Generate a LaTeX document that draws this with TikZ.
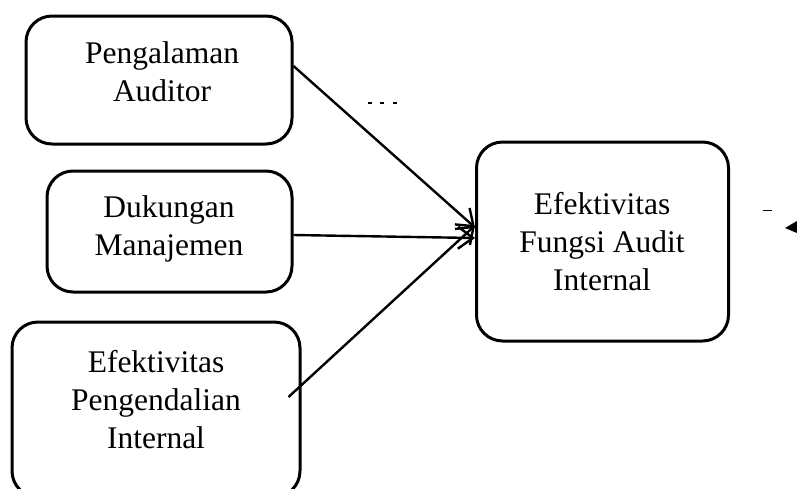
\documentclass[tikz,border=0pt]{standalone}
\usepackage{fontspec}
\setmainfont{Liberation Serif}
\usetikzlibrary{arrows.meta}
\tikzset{
  box/.style={draw, line width=3pt, rounded corners=26pt, inner sep=0pt},
  lbl/.style={align=center, inner sep=0pt, anchor=base, font=\fontsize{31.5}{38}\selectfont},
  arr/.style={line width=2.4pt, -{Straight Barb[length=15pt,width=22pt,line width=2.4pt]}},
  speck/.style={fill=black, draw=none}
}
\begin{document}
\begin{tikzpicture}[x=1pt,y=-1pt]
\useasboundingbox (0,0) rectangle (797,488);
\node[box, minimum width=266pt, minimum height=128pt] (b1) at (159,80) {};
\node[box, minimum width=245pt, minimum height=121pt] (b2) at (169.5,231.5) {};
\node[box, minimum width=288pt, minimum height=175pt] (b3) at (156,409.5) {};
\node[box, minimum width=252pt, minimum height=199pt] (b4) at (602.5,241.5) {};
\node[lbl] (t1) at (162,101) {Pengalaman\\Auditor};
\node[lbl] (t2) at (169,255) {Dukungan\\Manajemen};
\node[lbl] (t3) at (156,448) {Efektivitas\\Pengendalian\\Internal};
\node[lbl] (t4) at (602,290) {Efektivitas\\Fungsi Audit\\Internal};
\draw[arr] ([yshift=14pt]b1.east) -- ([yshift=14pt]b4.west);
\draw[arr] ([yshift=-3.5pt]b2.east) -- ([yshift=3.5pt]b4.west);
\coordinate (s3) at ([xshift=-13pt,yshift=12.5pt]b3.east);
\draw[arr] (s3) -- ([yshift=16pt]b4.west);
% stray marks
\fill[speck] (368,102) rectangle (372,104);
\fill[speck] (380,102) rectangle (384,104);
\fill[speck] (393,102) rectangle (397,104);
\fill[speck] (763,209.5) rectangle (772,211);
\fill[speck] (785,228) -- (797,221) -- (797,233) -- cycle;
\end{tikzpicture}
\end{document}
